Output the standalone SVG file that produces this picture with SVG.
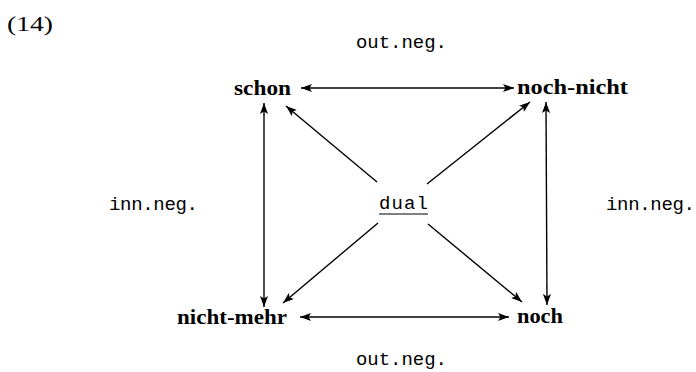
<svg xmlns="http://www.w3.org/2000/svg" width="696" height="372" viewBox="0 0 696 372">
<defs>
<marker id="ah" markerUnits="userSpaceOnUse" markerWidth="12" markerHeight="8" refX="11" refY="4" orient="auto-start-reverse">
<path d="M0,0 L11,4 L0,8 L2.5,4 Z" fill="#000"/>
</marker>
<style>
.c{stroke:#000;stroke-width:1.4;fill:none}
.b{marker-end:url(#ah);marker-start:url(#ah)}
.e{marker-end:url(#ah)}
.m{font-family:"Liberation Mono","DejaVu Sans Mono",monospace;font-size:19px;fill:#000}
.n{font-family:"Liberation Serif","Times New Roman",serif;font-size:22px;font-weight:bold;fill:#000}
.s{font-family:"Liberation Serif","Times New Roman",serif;font-size:22px;fill:#000}
</style>
</defs>
<rect width="696" height="372" fill="#fff"/>
<text class="s" x="7" y="31" textLength="46" lengthAdjust="spacingAndGlyphs">(14)</text>
<text class="m" x="356" y="48" textLength="91">out.neg.</text>
<text class="m" x="356" y="365" textLength="91">out.neg.</text>
<text class="m" x="109" y="210" textLength="89">inn.neg.</text>
<text class="m" x="606" y="210" textLength="89">inn.neg.</text>
<g id="connectors">
<line class="c b" x1="301" y1="88" x2="514" y2="88"/>
<line class="c b" x1="300" y1="317" x2="509" y2="317"/>
<line class="c b" x1="264" y1="103" x2="264" y2="307"/>
<line class="c b" x1="546" y1="102" x2="547" y2="305"/>
<line class="c e" x1="377" y1="182" x2="286" y2="106"/>
<line class="c e" x1="427" y1="184" x2="530" y2="102"/>
<line class="c e" x1="378" y1="223" x2="283" y2="303"/>
<line class="c e" x1="428" y1="224" x2="522" y2="302"/>
</g>
<g id="dual">
<text class="m" x="379" y="209" textLength="49">dual</text>
<line x1="379" y1="214" x2="428" y2="214" stroke="#000" stroke-width="1.2"/>
</g>
<g id="schon"><text class="n" x="234" y="95" textLength="57" lengthAdjust="spacingAndGlyphs">schon</text></g>
<g id="noch-nicht"><text class="n" x="517" y="94" textLength="111" lengthAdjust="spacingAndGlyphs">noch-nicht</text></g>
<g id="nicht-mehr"><text class="n" x="177" y="324" textLength="110" lengthAdjust="spacingAndGlyphs">nicht-mehr</text></g>
<g id="noch"><text class="n" x="517" y="323" textLength="46" lengthAdjust="spacingAndGlyphs">noch</text></g>
</svg>
